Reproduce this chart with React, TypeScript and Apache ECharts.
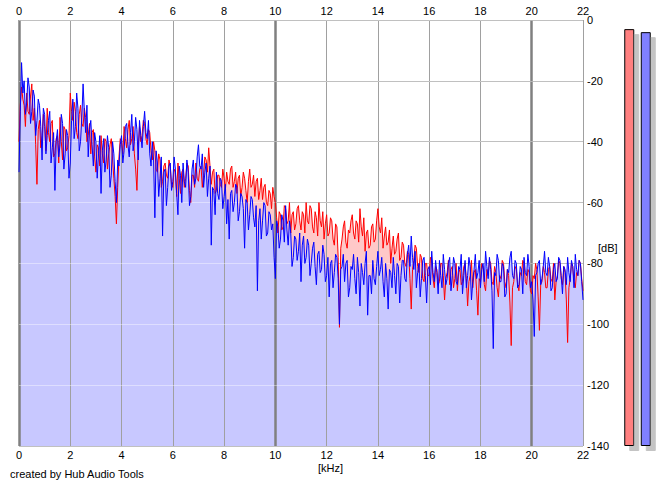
import React, { useEffect, useRef } from "react";
import * as echarts from "echarts";

// frequency step between spectrum points, kHz
const FREQ_STEP = 0.05;

// left channel (red) spectrum, dB, 0..22 kHz every 0.05 kHz (10 values = 0.5 kHz per row)
const redLevels = [
  -40, -28, -22, -26, -28, -35, -24, -30, -31, -25,
  -21, -33, -29, -41, -54, -36, -33, -42, -38, -31,
  -35, -43, -29, -37, -40, -34, -33, -45, -44, -39,
  -38, -47, -32, -40, -46, -35, -36, -43, -42, -38,
  -24, -30, -33, -27, -30, -37, -39, -31, -28, -34,
  -35, -29, -32, -40, -38, -34, -44, -37, -36, -45,
  -50, -41, -42, -48, -38, -44, -47, -39, -40, -49,
  -44, -41, -39, -46, -52, -58, -67, -55, -45, -39,
  -40, -44, -35, -39, -42, -36, -33, -41, -39, -35,
  -44, -49, -56, -42, -35, -40, -38, -33, -34, -39,
  -41, -36, -37, -43, -46, -40, -43, -49, -50, -44,
  -46, -55, -53, -48, -47, -51, -52, -46, -48, -54,
  -55, -49, -50, -58, -47, -52, -57, -50, -49, -55,
  -52, -47, -48, -56, -60, -51, -51, -55, -47, -52,
  -53, -49, -48, -55, -51, -45, -46, -50, -42, -48,
  -54, -50, -49, -57, -56, -51, -51, -54, -55, -49,
  -52, -56, -50, -53, -54, -49, -48, -55, -53, -50,
  -57, -52, -51, -58, -55, -50, -52, -56, -60, -53,
  -49, -55, -54, -51, -58, -53, -52, -59, -56, -52,
  -59, -55, -54, -60, -61, -56, -57, -62, -55, -58,
  -60, -65, -70, -63, -64, -69, -68, -61, -62, -67,
  -66, -60, -70, -64, -63, -69, -67, -62, -61, -66,
  -69, -63, -64, -70, -60, -66, -67, -61, -62, -68,
  -70, -63, -65, -71, -60, -66, -68, -63, -72, -67,
  -64, -71, -70, -65, -66, -72, -74, -67, -68, -78,
  -101, -75, -72, -68, -66, -73, -75, -69, -70, -66,
  -64, -70, -72, -66, -67, -73, -62, -68, -71, -65,
  -76, -70, -69, -75, -74, -68, -67, -73, -72, -66,
  -62, -68, -70, -65, -75, -71, -68, -74, -73, -69,
  -80, -75, -71, -77, -76, -72, -70, -79, -78, -73,
  -74, -80, -81, -76, -77, -85, -95, -82, -79, -74,
  -75, -81, -83, -77, -78, -85, -86, -80, -80, -84,
  -84, -78, -79, -85, -88, -81, -82, -87, -86, -80,
  -80, -84, -92, -85, -83, -79, -87, -82, -81, -88,
  -85, -80, -89, -83, -82, -87, -86, -81, -80, -85,
  -94, -86, -84, -79, -88, -83, -82, -89, -97, -85,
  -86, -80, -81, -87, -89, -82, -84, -79, -80, -86,
  -87, -81, -83, -88, -91, -84, -85, -79, -80, -86,
  -88, -82, -84, -93, -107, -88, -86, -81, -82, -87,
  -89, -83, -84, -79, -80, -86, -87, -82, -83, -89,
  -90, -84, -85, -80, -82, -91, -102, -87, -86, -81,
  -83, -88, -88, -82, -81, -85, -86, -80, -92, -86,
  -84, -79, -80, -85, -87, -81, -83, -92, -106, -88,
  -85, -80, -81, -86, -88, -83, -84, -79, -80, -85,
  -89,
];

// right channel (blue) spectrum, dB, 0..22 kHz every 0.05 kHz (10 values = 0.5 kHz per row)
const blueLevels = [
  -50, -30, -14, -24, -20, -31, -27, -19, -22, -34,
  -30, -23, -25, -38, -33, -26, -28, -35, -46, -29,
  -31, -44, -38, -33, -30, -47, -42, -37, -56, -40,
  -36, -45, -41, -31, -34, -49, -44, -36, -38, -52,
  -47, -33, -26, -39, -35, -24, -29, -43, -40, -32,
  -21, -30, -37, -28, -45, -36, -33, -41, -48, -37,
  -40, -52, -44, -38, -57, -43, -39, -50, -46, -38,
  -42, -55, -51, -40, -44, -53, -60, -46, -48, -41,
  -38, -47, -43, -35, -34, -41, -45, -37, -31, -43,
  -40, -32, -36, -46, -33, -38, -42, -35, -30, -37,
  -39, -33, -44, -48, -40, -46, -65, -43, -47, -58,
  -52, -45, -71, -50, -49, -61, -55, -48, -47, -56,
  -53, -45, -49, -57, -64, -48, -51, -60, -47, -53,
  -55, -46, -50, -61, -58, -49, -46, -54, -52, -45,
  -41, -48, -49, -44, -55, -50, -47, -58, -52, -48,
  -74, -55, -56, -64, -50, -57, -59, -52, -53, -62,
  -58, -54, -67, -59, -72, -57, -56, -63, -60, -54,
  -55, -66, -63, -57, -58, -62, -75, -59, -60, -69,
  -64, -58, -59, -65, -68, -61, -89, -66, -62, -72,
  -66, -60, -61, -71, -70, -63, -64, -69, -67, -78,
  -85, -66, -68, -75, -72, -64, -66, -73, -61, -69,
  -74, -66, -70, -81, -78, -71, -72, -79, -76, -70,
  -86, -74, -71, -80, -78, -72, -74, -84, -80, -75,
  -73, -81, -87, -77, -76, -83, -82, -74, -77, -86,
  -84, -78, -91, -80, -79, -88, -83, -77, -78, -85,
  -100, -82, -81, -77, -86, -80, -79, -91, -88, -81,
  -82, -77, -85, -90, -78, -83, -94, -80, -83, -87,
  -80, -76, -97, -84, -84, -90, -79, -85, -87, -81,
  -76, -84, -82, -78, -86, -91, -80, -85, -95, -82,
  -83, -88, -78, -84, -90, -80, -81, -93, -84, -79,
  -79, -85, -86, -77, -74, -81, -71, -78, -82, -76,
  -88, -83, -80, -91, -85, -79, -78, -84, -93, -82,
  -81, -87, -76, -83, -86, -79, -83, -90, -79, -84,
  -88, -77, -82, -87, -85, -80, -78, -89, -84, -78,
  -80, -86, -87, -81, -82, -77, -90, -84, -79, -88,
  -84, -78, -81, -92, -86, -82, -77, -85, -83, -79,
  -88, -82, -80, -86, -76, -81, -85, -78, -82, -89,
  -108, -83, -84, -77, -79, -86, -86, -80, -81, -91,
  -90, -82, -83, -78, -76, -84, -85, -79, -80, -88,
  -87, -81, -82, -90, -78, -83, -84, -77, -81, -88,
  -86, -92, -104, -84, -83, -80, -79, -87, -85, -81,
  -76, -83, -84, -78, -81, -89, -88, -82, -80, -86,
  -85, -78, -79, -84, -90, -81, -82, -87, -78, -83,
  -86, -79, -81, -88, -77, -82, -84, -79, -80, -86,
  -92,
];

// frequency tick labels (kHz) and level ticks (dB)
const freqTicks = [0, 2, 4, 6, 8, 10, 12, 14, 16, 18, 20, 22];
const dbTicks = [0, -20, -40, -60, -80, -100, -120, -140];

// peak meters (dB): left (red), right (blue)
const meterChannels = ["L", "R"];
const meterLevels = [-3, -4];

const FONT = "'Liberation Sans', Arial, sans-serif";

export default function App() {
  const ref = useRef<HTMLDivElement>(null);

  useEffect(() => {
    if (!ref.current) return;
    const chart = echarts.init(ref.current, null, { renderer: "svg" });
    const toPairs = (arr: number[]) =>
      arr.map((v, i) => [Number((i * FREQ_STEP).toFixed(2)), v]);
    const redData = toPairs(redLevels);
    const blueData = toPairs(blueLevels);
    const fMin = freqTicks[0];
    const fMax = freqTicks[freqTicks.length - 1];
    const dMin = dbTicks[dbTicks.length - 1];
    const dMax = dbTicks[0];

    const labelStyle = { color: "#000", fontSize: 11, fontFamily: FONT };

    chart.setOption({
      animation: false,
      backgroundColor: "#ffffff",
      grid: [
        { left: 19, top: 20, right: 82, bottom: 41 },
        { left: 621, top: 20, width: 33, bottom: 41 },
      ],
      xAxis: [
        {
          type: "value",
          gridIndex: 0,
          position: "bottom",
          min: fMin,
          max: fMax,
          interval: 2,
          axisLine: { show: false },
          axisTick: { show: false },
          splitLine: { show: false },
          axisLabel: { ...labelStyle, margin: 3 },
          z: 4,
        },
        {
          type: "value",
          gridIndex: 0,
          position: "top",
          min: fMin,
          max: fMax,
          interval: 2,
          axisLine: { show: false },
          axisTick: { show: false },
          splitLine: {
            show: true,
            lineStyle: { color: "#a0a0a0", width: 1 },
          },
          axisLabel: { ...labelStyle, margin: 4 },
          z: 4,
        },
        {
          type: "value",
          gridIndex: 0,
          position: "top",
          min: fMin,
          max: fMax,
          interval: 10,
          axisLine: { show: false },
          axisTick: { show: false },
          axisLabel: { show: false },
          splitLine: {
            show: true,
            showMinLine: true,
            showMaxLine: false,
            lineStyle: { color: "#808080", width: 2.5 },
          },
          z: 4,
        },
        {
          type: "category",
          gridIndex: 1,
          data: meterChannels,
          show: false,
        },
      ],
      yAxis: [
        {
          type: "value",
          gridIndex: 0,
          position: "right",
          min: dMin,
          max: dMax,
          interval: 20,
          axisLine: { show: false },
          axisTick: { show: false },
          splitLine: {
            show: true,
            lineStyle: { color: "#969696", width: 1 },
          },
          axisLabel: { ...labelStyle, margin: 4 },
          z: 0,
        },
        {
          type: "value",
          gridIndex: 1,
          min: 0,
          max: dMax - dMin,
          show: false,
        },
      ],
      series: [
        {
          type: "line",
          name: "L area",
          xAxisIndex: 0,
          yAxisIndex: 0,
          data: redData,
          showSymbol: false,
          lineStyle: { width: 0 },
          areaStyle: { color: "#ffc8c8", opacity: 1, origin: "start" },
          z: 1,
          silent: true,
        },
        {
          type: "line",
          name: "R area",
          xAxisIndex: 0,
          yAxisIndex: 0,
          data: blueData,
          showSymbol: false,
          lineStyle: { width: 0 },
          areaStyle: { color: "#c8c8ff", opacity: 1, origin: "start" },
          z: 2,
          silent: true,
        },
        {
          type: "line",
          name: "grid overlay",
          xAxisIndex: 0,
          yAxisIndex: 0,
          data: [],
          z: 3,
          silent: true,
          markLine: {
            silent: true,
            symbol: "none",
            label: { show: false },
            lineStyle: { color: "rgba(255,255,255,0.4)", type: "solid", width: 1 },
            data: dbTicks.map((v) => ({ yAxis: v })),
          },
        },
        {
          type: "line",
          name: "L",
          xAxisIndex: 0,
          yAxisIndex: 0,
          data: redData,
          showSymbol: false,
          lineStyle: { color: "#ff0000", width: 1 },
          z: 5,
          silent: true,
        },
        {
          type: "line",
          name: "R",
          xAxisIndex: 0,
          yAxisIndex: 0,
          data: blueData,
          showSymbol: false,
          lineStyle: { color: "#0000ff", width: 1 },
          z: 6,
          silent: true,
        },
        {
          type: "bar",
          name: "meters",
          xAxisIndex: 3,
          yAxisIndex: 1,
          barWidth: 10,
          data: meterLevels.map((v, i) => ({
            value: v - dMin,
            itemStyle: {
              color: i === 0 ? "#ff8080" : "#8080ff",
              borderColor: "#000000",
              borderWidth: 1,
              shadowColor: "#c4c4c4",
              shadowOffsetX: 5,
              shadowOffsetY: 5,
              shadowBlur: 0,
            },
          })),
          silent: true,
        },
      ],
      graphic: [
        {
          type: "text",
          left: 598,
          top: 242,
          style: { text: "[dB]", fill: "#000", fontSize: 11, fontFamily: FONT },
        },
        {
          type: "text",
          left: 318,
          top: 462,
          style: { text: "[kHz]", fill: "#000", fontSize: 11, fontFamily: FONT },
        },
        {
          type: "text",
          left: 10,
          top: 468,
          style: {
            text: "created by Hub Audio Tools",
            fill: "#000",
            fontSize: 11,
            fontFamily: FONT,
          },
        },
      ],
    });
    return () => chart.dispose();
  }, []);

  return (
    <div
      ref={ref}
      style={{ position: "fixed", left: 0, top: 0, width: 665, height: 487 }}
    />
  );
}
